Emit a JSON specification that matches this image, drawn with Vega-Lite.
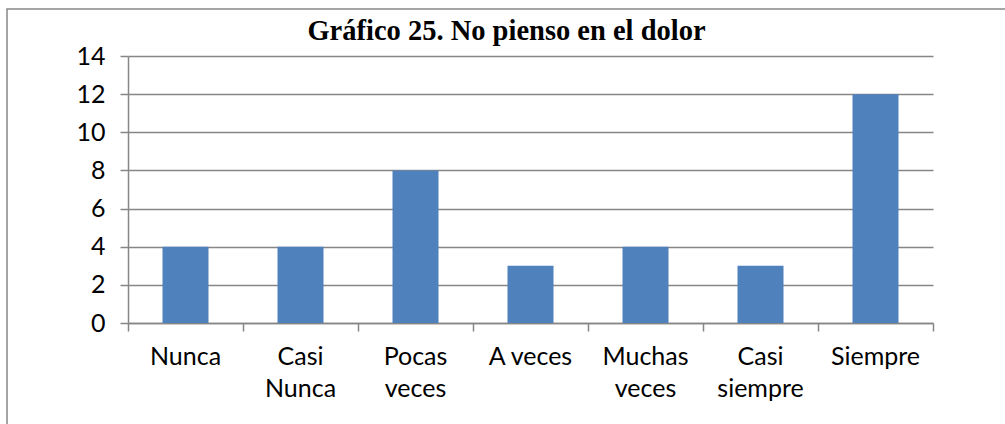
{
  "$schema": "https://vega.github.io/schema/vega-lite/v6.json",
  "width": 805,
  "height": 267,
  "autosize": "none",
  "padding": {"left": 128, "top": 56, "right": 72, "bottom": 101},
  "background": "white",
  "title": {
    "text": "Gráfico 25. No pienso en el dolor",
    "font": "Liberation Serif",
    "fontSize": 28.5,
    "fontWeight": "bold",
    "color": "black",
    "anchor": "middle",
    "frame": "group",
    "dx": -24,
    "baseline": "bottom",
    "offset": -66
  },
  "config": {
    "view": {"stroke": null},
    "axis": {
      "labelFont": "Lato",
      "labelFontSize": 25,
      "labelColor": "black",
      "domainColor": "#868686",
      "tickColor": "#868686",
      "gridColor": "#868686",
      "domainWidth": 1.5,
      "tickWidth": 1.5,
      "gridWidth": 1.5,
      "tickSize": 8,
      "title": null
    }
  },
  "layer": [
    {
      "data": {"values": [{"frame": 1}]},
      "mark": {"type": "rect", "fill": null, "stroke": "#888888", "strokeWidth": 1.5},
      "encoding": {
        "x": {"value": -121},
        "x2": {"value": 900},
        "y": {"value": -47},
        "y2": {"value": 420}
      }
    },
    {
      "data": {
        "values": [
          {"categoria": "Nunca", "frecuencia": 4},
          {"categoria": "Casi Nunca", "frecuencia": 4},
          {"categoria": "Pocas veces", "frecuencia": 8},
          {"categoria": "A veces", "frecuencia": 3},
          {"categoria": "Muchas veces", "frecuencia": 4},
          {"categoria": "Casi siempre", "frecuencia": 3},
          {"categoria": "Siempre", "frecuencia": 12}
        ]
      },
      "mark": {"type": "bar", "color": "#4F81BD", "width": {"band": 0.4}},
      "encoding": {
        "x": {
          "field": "categoria",
          "type": "nominal",
          "sort": null,
          "scale": {"paddingInner": 0, "paddingOuter": 0},
          "axis": {
            "labelAngle": 0,
            "bandPosition": 1,
            "tickExtra": true,
            "labelPadding": 13,
            "labelLineHeight": 32,
            "labelBaseline": "top",
            "labelExpr": "datum.label == 'A veces' ? datum.label : split(datum.label, ' ')"
          }
        },
        "y": {
          "field": "frecuencia",
          "type": "quantitative",
          "scale": {"domain": [0, 14], "nice": false},
          "axis": {
            "values": [0, 2, 4, 6, 8, 10, 12, 14],
            "labelPadding": 15,
            "grid": true
          }
        }
      }
    }
  ]
}
